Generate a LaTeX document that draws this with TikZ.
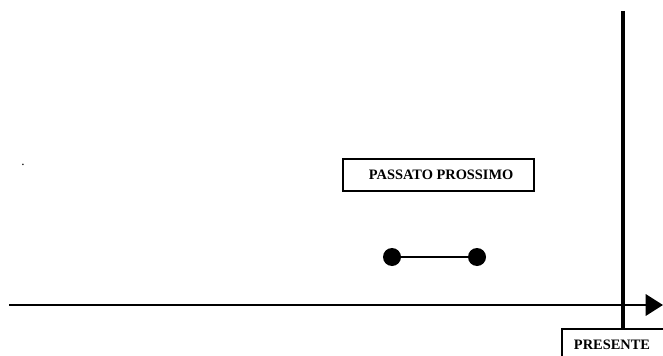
\documentclass[tikz,border=0pt]{standalone}
\usepackage{fontspec}
\setmainfont{Liberation Serif}
\usetikzlibrary{arrows.meta}
\tikzset{lbl/.style={font=\bfseries\fontsize{10.8pt}{12pt}\selectfont},
 pt/.style={circle,fill=black,inner sep=0pt,minimum size=13.5pt},
 axis/.style={line width=1.8pt},
 }

\begin{document}
\begin{tikzpicture}[x=0.75pt,y=-0.75pt]
        \useasboundingbox (0,0) rectangle (663,356);
        \node[inner sep=0pt] (dot) at (23,165) {.};
        % time axis
        \coordinate (start) at (9,305);
        \coordinate (end) at (663,305);
        \draw[axis,-{Triangle[length=13pt,width=16pt]}] (start) -- (end);
        % present
        \coordinate (now) at (623,11);
        \coordinate (boxtop) at (623,329);
        \draw[line width=2.6pt] (now) -- (boxtop);
        \draw[line width=1.2pt] (562,360) -- (562,329) -- (666,329);
        \node[lbl] (presente) at (612,345) {PRESENTE};
        % passato prossimo
        \node[lbl,draw,line width=1.2pt,minimum width=143pt,minimum height=24pt,inner sep=0pt] (pp) at (438.5,175) {\hspace{4pt}PASSATO PROSSIMO};
        \node[pt] (a) at (392,257) {};
        \node[pt] (b) at (477,257) {};
        \draw[line width=1.5pt] (a) -- (b);
    \end{tikzpicture}
\end{document}
